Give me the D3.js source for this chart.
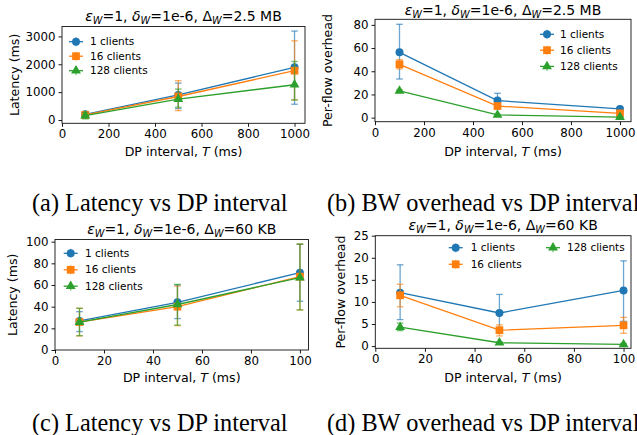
<!DOCTYPE html>
<html>
<head>
<meta charset="utf-8">
<script src="https://cdn.jsdelivr.net/npm/d3@7"></script>
<style>
  body { margin: 0; background: #fff; }
  svg { display: block; }
</style>
</head>
<body>
<div id="chart"></div>
<script>
const clientLabels = ['1 clients', '16 clients', '128 clients'];
const seriesColors = ['#1f77b4', '#ff7f0e', '#2ca02c'];
const markerShapes = ['circle', 'square', 'triangle'];

const intervalsLong = [100, 500, 1000];
const intervalsShort = [10, 50, 100];
const xTicksLong = [0, 200, 400, 600, 800, 1000];
const xTicksShort = [0, 20, 40, 60, 80, 100];

// (a) latency, delta 2.5 MB
const latencyLong = [[205, 900, 1890], [180, 843, 1770], [157, 747, 1265]];
const latencyLongLow = [[140, 410, 566], [120, 337, 720], [40, 458, 720]];
const latencyLongHigh = [[270, 1325, 3193], [250, 1410, 2843], [270, 1110, 2100]];
const yTicksA = [0, 1000, 2000, 3000];

// (b) per-flow overhead, delta 2.5 MB
const overheadLong = [[56.3, 14.7, 7.5], [46, 10, 3.7], [23, 2.3, 0.5]];
const overheadLongLow = [[33.3, 9, 6], [42, 8, 2.7], [22, 1.8, 0.2]];
const overheadLongHigh = [[80.5, 21, 9], [50, 12, 4.7], [24, 2.8, 0.8]];
const yTicksB = [0, 20, 40, 60, 80];

// (c) latency, delta 60 KB
const latencyShort = [[26.8, 44, 71.4], [25.8, 40, 67.7], [25.8, 42, 66.8]];
const latencyShortLow = [[17, 29, 45], [13, 22.5, 37], [13.2, 23, 37]];
const latencyShortHigh = [[35.4, 60, 97.5], [38.5, 59, 97.8], [38.5, 60.6, 97.8]];
const yTicksC = [0, 20, 40, 60, 80, 100];

// (d) per-flow overhead, delta 60 KB
const overheadShort = [[12.1, 7.5, 12.6], [11.5, 3.6, 4.7], [4.3, 0.76, 0.4]];
const overheadShortLow = [[6, 3.3, 5.6], [8.9, 2.3, 2.9], [3.5, 0.55, 0.2]];
const overheadShortHigh = [[18.4, 11.7, 19.3], [14, 4.8, 6.5], [5.2, 0.95, 0.6]];
const yTicksD = [0, 5, 10, 15, 20, 25];

const titles = ['ε_W=1, δ_W=1e-6, Δ_W=2.5 MB', 'ε_W=1, δ_W=1e-6, Δ_W=2.5 MB',
                'ε_W=1, δ_W=1e-6, Δ_W=60 KB', 'ε_W=1, δ_W=1e-6, Δ_W=60 KB'];
const captions = ['(a) Latency vs DP interval', '(b) BW overhead vs DP interval',
                  '(c) Latency vs DP interval', '(d) BW overhead vs DP interval'];
const xLabel = 'DP interval, ';

const FONT = 'DejaVu Sans, sans-serif';

let svg = d3.select('#chart').append('svg')
  .attr('width', 637).attr('height', 435);

let markerPath = function(shape) {
  if (shape === 'circle') return d3.symbol(d3.symbolCircle, 50)();
  if (shape === 'square') return d3.symbol(d3.symbolSquare, 60)();
  return d3.symbol(d3.symbolTriangle, 42)();
};

let mathTitle = function(sel, str) {
  let parts = str.split(/([εδΔ])_W/);
  parts.forEach(function(p, i) {
    if (i % 2 === 0) {
      sel.append('tspan').attr('dy', i === 0 ? 0 : -3).text(p);
    } else {
      sel.append('tspan')
        .style('font-style', p === 'Δ' ? 'normal' : 'italic').text(p);
      sel.append('tspan').attr('dy', 3).style('font-style', 'italic')
        .style('font-size', '0.7em').text('W');
    }
  });
};

let panels = [
  { left: 62, right: 305, top: 26.5, bottom: 123.3, xDomain: [0, 1045], yDomain: [-119, 3356],
    xs: intervalsLong, xTicks: xTicksLong, yTicks: yTicksA,
    means: latencyLong, lows: latencyLongLow, highs: latencyLongHigh,
    title: titles[0], titleY: 20.5, ylabel: 'Latency (ms)', ylabelX: 15, xlabelY: 156,
    legend: { rows: [41.7, 56.2, 70.7], cols: [[0, 76, 90], [0, 76, 90], [0, 76, 90]] } },
  { left: 375, right: 631, top: 19.3, bottom: 121.7, xDomain: [0, 1045], yDomain: [-3.5, 84.8],
    xs: intervalsLong, xTicks: xTicksLong, yTicks: yTicksB,
    means: overheadLong, lows: overheadLongLow, highs: overheadLongHigh,
    title: titles[1], titleY: 14.5, ylabel: 'Per-flow overhead', ylabelX: 328, xlabelY: 156,
    legend: { rows: [34.3, 50.2, 66.4], cols: [[0, 547, 560], [0, 547, 560], [0, 547, 560]] } },
  { left: 55, right: 308.5, top: 239.5, bottom: 350, xDomain: [0, 103.5], yDomain: [0, 102],
    xs: intervalsShort, xTicks: xTicksShort, yTicks: yTicksC,
    means: latencyShort, lows: latencyShortLow, highs: latencyShortHigh,
    title: titles[2], titleY: 233.5, ylabel: 'Latency (ms)', ylabelX: 12.7, xlabelY: 382,
    legend: { rows: [253.3, 269.8, 286.2], cols: [[0, 70.7, 85], [0, 70.7, 85], [0, 70.7, 85]] } },
  { left: 375.3, right: 631, top: 235.7, bottom: 348.3, xDomain: [0, 103], yDomain: [-0.5, 25],
    xs: intervalsShort, xTicks: xTicksShort, yTicks: yTicksD,
    means: overheadShort, lows: overheadShortLow, highs: overheadShortHigh,
    title: titles[3], titleY: 230, ylabel: 'Per-flow overhead', ylabelX: 341, xlabelY: 382,
    legend: { rows: [247.7, 264.3, 247.7], cols: [[0, 455.7, 470.7], [1, 455.7, 470.7], [0, 553, 567]] } }
];

let drawPanel = function(p) {
  let x = d3.scaleLinear().domain(p.xDomain).range([p.left, p.right]);
  let y = d3.scaleLinear().domain(p.yDomain).range([p.bottom, p.top]);
  let g = svg.append('g');

  let xAxis = g.append('g')
    .attr('transform', 'translate(0,' + p.bottom + ')')
    .call(d3.axisBottom(x).tickValues(p.xTicks).tickSize(3.5).tickPadding(3).tickFormat(d3.format('d')));
  let yAxis = g.append('g')
    .attr('transform', 'translate(' + p.left + ',0)')
    .call(d3.axisLeft(y).tickValues(p.yTicks).tickSize(3.5).tickPadding(3).tickFormat(d3.format('d')));
  [xAxis, yAxis].forEach(function(a) {
    a.select('.domain').remove();
    a.selectAll('line').attr('stroke', '#000').attr('stroke-width', 0.9);
    a.selectAll('text').attr('fill', '#000').style('font-family', FONT).style('font-size', '11.8px');
  });

  // series: error bars, line, markers
  p.means.forEach(function(m, i) {
    let pts = p.xs.map(function(xv, j) {
      return { x: xv, y: m[j], lo: p.lows[i][j], hi: p.highs[i][j] };
    });
    let col = seriesColors[i];
    let eb = g.append('g').attr('stroke', col).attr('stroke-width', 1.3).attr('stroke-opacity', 0.65);
    pts.forEach(function(d) {
      let cx = x(d.x);
      eb.append('line').attr('x1', cx).attr('x2', cx).attr('y1', y(d.lo)).attr('y2', y(d.hi));
      eb.append('line').attr('x1', cx - 3.3).attr('x2', cx + 3.3).attr('y1', y(d.lo)).attr('y2', y(d.lo));
      eb.append('line').attr('x1', cx - 3.3).attr('x2', cx + 3.3).attr('y1', y(d.hi)).attr('y2', y(d.hi));
    });
    g.append('path').datum(pts)
      .attr('fill', 'none').attr('stroke', col).attr('stroke-width', 1.3)
      .attr('d', d3.line().x(function(d) { return x(d.x); }).y(function(d) { return y(d.y); }));
    g.selectAll('.mk' + i).data(pts).enter().append('path')
      .attr('class', 'mk' + i)
      .attr('transform', function(d) { return 'translate(' + x(d.x) + ',' + y(d.y) + ')'; })
      .attr('d', markerPath(markerShapes[i]))
      .attr('fill', col);
  });

  // frame
  g.append('rect')
    .attr('x', p.left).attr('y', p.top)
    .attr('width', p.right - p.left).attr('height', p.bottom - p.top)
    .attr('fill', 'none').attr('stroke', '#111').attr('stroke-width', 0.9);

  // title
  let t = g.append('text')
    .attr('x', (p.left + p.right) / 2).attr('y', p.titleY)
    .attr('text-anchor', 'middle')
    .style('font-family', FONT).style('font-size', '14px');
  mathTitle(t, p.title);

  // axis labels
  let xl = g.append('text')
    .attr('x', (p.left + p.right) / 2).attr('y', p.xlabelY)
    .attr('text-anchor', 'middle')
    .style('font-family', FONT).style('font-size', '12.6px');
  xl.append('tspan').text(xLabel);
  xl.append('tspan').style('font-style', 'italic').text('T');
  xl.append('tspan').text(' (ms)');

  g.append('text')
    .attr('transform', 'translate(' + p.ylabelX + ',' + (p.top + p.bottom) / 2 + ') rotate(-90)')
    .attr('text-anchor', 'middle').attr('dy', '0.35em')
    .style('font-family', FONT).style('font-size', '12.6px')
    .text(p.ylabel);

  // legend
  clientLabels.forEach(function(lab, i) {
    let c = p.legend.cols[i];
    let ly = p.legend.rows[i];
    let mx = c[1];
    let lg = g.append('g');
    lg.append('line').attr('x1', mx - 7).attr('x2', mx + 7).attr('y1', ly).attr('y2', ly)
      .attr('stroke', seriesColors[i]).attr('stroke-width', 1.3);
    lg.append('line').attr('x1', mx).attr('x2', mx).attr('y1', ly - 4.5).attr('y2', ly + 4.5)
      .attr('stroke', seriesColors[i]).attr('stroke-width', 1.2).attr('stroke-opacity', 0.65);
    lg.append('path').attr('transform', 'translate(' + mx + ',' + ly + ')')
      .attr('d', markerPath(markerShapes[i])).attr('fill', seriesColors[i]);
    lg.append('text').attr('x', c[2]).attr('y', ly).attr('dy', '0.35em')
      .style('font-family', FONT).style('font-size', '10.5px').text(lab);
  });
};

panels.forEach(drawPanel);

// sub-figure captions
let capPos = [[32, 211], [327, 211], [32, 431], [327, 431]];
captions.forEach(function(c, i) {
  svg.append('text')
    .attr('x', capPos[i][0]).attr('y', capPos[i][1])
    .style('font-family', 'Liberation Serif, Times New Roman, serif')
    .style('font-size', '24.3px')
    .text(c);
});
</script>
</body>
</html>
